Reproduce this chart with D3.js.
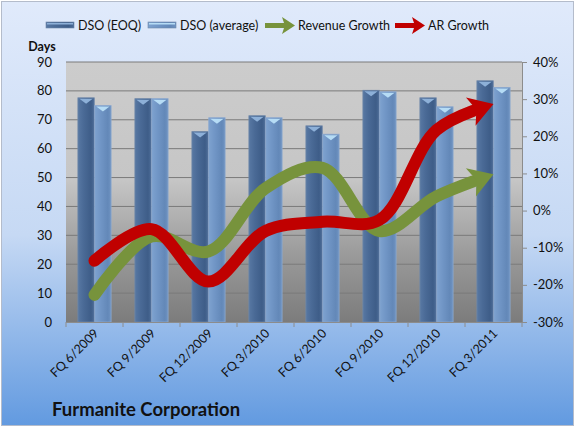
<!DOCTYPE html>
<html>
<head>
<meta charset="utf-8">
<script src="https://cdn.jsdelivr.net/npm/d3@7"></script>
<style>
  body { margin: 0; }
  svg { display: block; font-family: Lato, "Open Sans", sans-serif; }
</style>
</head>
<body>
<div id="chart"></div>
<script>
// data
const quarters = ["FQ 6/2009", "FQ 9/2009", "FQ 12/2009", "FQ 3/2010", "FQ 6/2010", "FQ 9/2010", "FQ 12/2010", "FQ 3/2011"];
const dsoEoq = [77.6, 77.3, 65.9, 71.4, 67.9, 80.2, 77.6, 83.5];
const dsoAvg = [74.9, 77.3, 70.7, 70.7, 65.0, 79.7, 74.5, 81.2];
const revenueGrowth = [-22.7, -7.0, -11.0, 6.0, 11.5, -5.5, 3.8, 9.8];
const arGrowth = [-13.5, -5.0, -19.1, -5.5, -3.0, -2.5, 21.7, 28.7];
const dayTicks = [0, 10, 20, 30, 40, 50, 60, 70, 80, 90];
const pctTicks = [-30, -20, -10, 0, 10, 20, 30, 40];

const width = 575, height = 427;
const plot = { left: 66, right: 522, top: 62, bottom: 322 };

const svg = d3.select("#chart").append("svg")
  .attr("width", width)
  .attr("height", height);

const defs = svg.append("defs");

// background gradients
const bg = defs.append("linearGradient").attr("id", "bg").attr("x1", 0).attr("y1", 0).attr("x2", 0).attr("y2", 1);
bg.append("stop").attr("offset", "0").attr("stop-color", "#e0eafb");
bg.append("stop").attr("offset", "0.55").attr("stop-color", "#c6d9f4");
bg.append("stop").attr("offset", "1").attr("stop-color", "#629ae0");

const plotBg = defs.append("linearGradient").attr("id", "plotbg").attr("x1", 0).attr("y1", 0).attr("x2", 0).attr("y2", 1);
plotBg.append("stop").attr("offset", "0").attr("stop-color", "#cccccc");
plotBg.append("stop").attr("offset", "0.45").attr("stop-color", "#c6c6c6");
plotBg.append("stop").attr("offset", "0.75").attr("stop-color", "#999999");
plotBg.append("stop").attr("offset", "1").attr("stop-color", "#7c7c7c");

function barGradient(id, stops) {
  const g = defs.append("linearGradient").attr("id", id).attr("x1", 0).attr("y1", 0).attr("x2", 1).attr("y2", 0);
  stops.forEach(([o, c]) => g.append("stop").attr("offset", o).attr("stop-color", c));
}
barGradient("darkbar", [[0, "#5878a3"], [0.35, "#4a6a96"], [0.8, "#3e5d88"], [1, "#4d6d98"]]);
barGradient("lightbar", [[0, "#7ea2cf"], [0.35, "#7196c6"], [0.8, "#6388b8"], [1, "#7094c2"]]);

svg.append("rect")
  .attr("x", 1.5).attr("y", 1.5)
  .attr("width", width - 3).attr("height", height - 3)
  .attr("fill", "url(#bg)")
  .attr("stroke", "#b4bccb");

svg.append("rect")
  .attr("x", plot.left).attr("y", plot.top)
  .attr("width", plot.right - plot.left).attr("height", plot.bottom - plot.top)
  .attr("fill", "url(#plotbg)");

// scales
const x0 = d3.scaleBand().domain(quarters).range([plot.left, plot.right]).paddingInner(0.4).paddingOuter(0.2);
const x1 = d3.scaleBand().domain(["eoq", "avg"]).range([0, x0.bandwidth()]).padding(0.03);
const yDays = d3.scaleLinear().domain([0, 90]).range([plot.bottom, plot.top]);
const yPct = d3.scaleLinear().domain([-30, 40]).range([plot.bottom, plot.top]);

// gridlines
svg.append("g")
  .selectAll("line")
  .data(dayTicks.slice(1))
  .join("line")
    .attr("x1", plot.left).attr("x2", plot.right)
    .attr("y1", d => yDays(d)).attr("y2", d => yDays(d))
    .attr("stroke", "#7a7a7a").attr("stroke-width", 1);

// bars
const groups = svg.append("g")
  .selectAll("g")
  .data(quarters.map((q, i) => ({ q, vals: [["eoq", dsoEoq[i]], ["avg", dsoAvg[i]]] })))
  .join("g")
    .attr("transform", d => `translate(${x0(d.q)},0)`);

const bars = groups.selectAll("g")
  .data(d => d.vals)
  .join("g");

bars.append("rect")
  .attr("x", d => x1(d[0]))
  .attr("y", d => yDays(d[1]))
  .attr("width", x1.bandwidth())
  .attr("height", d => yDays(0) - yDays(d[1]))
  .attr("fill", d => d[0] === "eoq" ? "url(#darkbar)" : "url(#lightbar)")
  .attr("stroke", d => d[0] === "eoq" ? "#6d86a8" : "#8aa8cf")
  .attr("stroke-width", 0.8);

// light cap on each bar top
bars.append("path")
  .attr("d", d => {
    const bx = x1(d[0]), bw = x1.bandwidth(), by = yDays(d[1]);
    return `M${bx + 1.5},${by + 1} L${bx + bw - 1.5},${by + 1} L${bx + bw / 2},${by + 6} Z`;
  })
  .attr("fill", d => d[0] === "eoq" ? "#8db0d8" : "#b6dcf5");

// x axis
const xAxisG = svg.append("g");
xAxisG.append("line")
  .attr("x1", plot.left).attr("x2", plot.right)
  .attr("y1", plot.bottom + 0.5).attr("y2", plot.bottom + 0.5)
  .attr("stroke", "#8c8c8c");
xAxisG.selectAll(".tick")
  .data(d3.range(quarters.length + 1))
  .join("line")
    .attr("x1", i => plot.left + i * x0.step()).attr("x2", i => plot.left + i * x0.step())
    .attr("y1", plot.bottom).attr("y2", plot.bottom + 5)
    .attr("stroke", "#8c8c8c");
xAxisG.selectAll("text")
  .data(quarters)
  .join("text")
    .attr("transform", d => `translate(${x0(d) + x0.bandwidth() / 2 + 5},${plot.bottom + 12}) rotate(-45)`)
    .attr("text-anchor", "end")
    .attr("font-size", 12.5)
    .attr("fill", "#111")
    .text(d => d);

// left axis labels
svg.append("g")
  .selectAll("text")
  .data(dayTicks)
  .join("text")
    .attr("x", 52).attr("y", d => yDays(d) + 4.5)
    .attr("text-anchor", "end")
    .attr("font-size", 13)
    .attr("fill", "#111")
    .text(d => d);

svg.append("text")
  .attr("x", 42).attr("y", 51)
  .attr("text-anchor", "middle")
  .attr("font-size", 12.5).attr("font-weight", "bold")
  .attr("fill", "#111")
  .text("Days");

// right axis
const rightAxis = svg.append("g");
rightAxis.append("line")
  .attr("x1", plot.right + 0.5).attr("x2", plot.right + 0.5)
  .attr("y1", plot.top).attr("y2", plot.bottom)
  .attr("stroke", "#8c8c8c");
rightAxis.selectAll("line.t")
  .data(pctTicks)
  .join("line")
    .attr("class", "t")
    .attr("x1", plot.right).attr("x2", plot.right + 5)
    .attr("y1", d => yPct(d) + 0.5).attr("y2", d => yPct(d) + 0.5)
    .attr("stroke", "#8c8c8c");
rightAxis.selectAll("text")
  .data(pctTicks)
  .join("text")
    .attr("x", 533).attr("y", d => yPct(d) + 4.5)
    .attr("font-size", 13)
    .attr("fill", "#111")
    .text(d => d + "%");

// growth lines with arrow heads
const line = d3.line()
  .x((d, i) => x0(quarters[i]) + x0.bandwidth() / 2)
  .y(d => yPct(d))
  .curve(d3.curveCatmullRom.alpha(0.5));

function arrowLine(values, color) {
  const path = svg.append("path")
    .attr("d", line(values))
    .attr("fill", "none")
    .attr("stroke", color)
    .attr("stroke-width", 12)
    .attr("stroke-linecap", "round");
  const len = path.node().getTotalLength();
  const headLen = 24, headHalf = 15;
  path.attr("stroke-dasharray", `${len - headLen + 2},${len}`);
  const tip = path.node().getPointAtLength(len);
  const base = path.node().getPointAtLength(len - headLen);
  const ang = Math.atan2(tip.y - base.y, tip.x - base.x);
  const nx = -Math.sin(ang), ny = Math.cos(ang);
  svg.append("path")
    .attr("d", `M${tip.x},${tip.y} L${base.x + nx * headHalf},${base.y + ny * headHalf} L${base.x + Math.cos(ang) * 6},${base.y + Math.sin(ang) * 6} L${base.x - nx * headHalf},${base.y - ny * headHalf} Z`)
    .attr("fill", color);
}
arrowLine(revenueGrowth, "#77933c");
arrowLine(arGrowth, "#c00000");

// legend
const legend = svg.append("g").attr("font-size", 12.5).attr("fill", "#111");
function legendBar(x, fill, cap) {
  legend.append("rect").attr("x", x).attr("y", 22).attr("width", 28).attr("height", 6)
    .attr("fill", fill).attr("stroke", "#6d86a8").attr("stroke-width", 0.6);
  legend.append("rect").attr("x", x + 1).attr("y", 23).attr("width", 26).attr("height", 1.5).attr("fill", cap);
}
function legendArrow(x, color) {
  legend.append("path")
    .attr("d", `M${x},${23} L${x + 19},${23} L${x + 17},${17} L${x + 30},${25.5} L${x + 17},${34} L${x + 19},${28} L${x},${28} Z`)
    .attr("fill", color);
}
legendBar(46, "url(#darkbar)", "#8db0d8");
legend.append("text").attr("x", 78).attr("y", 30).text("DSO (EOQ)");
legendBar(148, "url(#lightbar)", "#b6dcf5");
legend.append("text").attr("x", 180).attr("y", 30).text("DSO (average)");
legendArrow(265, "#77933c");
legend.append("text").attr("x", 298).attr("y", 30).text("Revenue Growth");
legendArrow(395, "#c00000");
legend.append("text").attr("x", 428).attr("y", 30).text("AR Growth");

// title
svg.append("text")
  .attr("x", 52).attr("y", 416)
  .attr("font-size", 18.5).attr("font-weight", "bold")
  .attr("fill", "#111")
  .text("Furmanite Corporation");
</script>
</body>
</html>
